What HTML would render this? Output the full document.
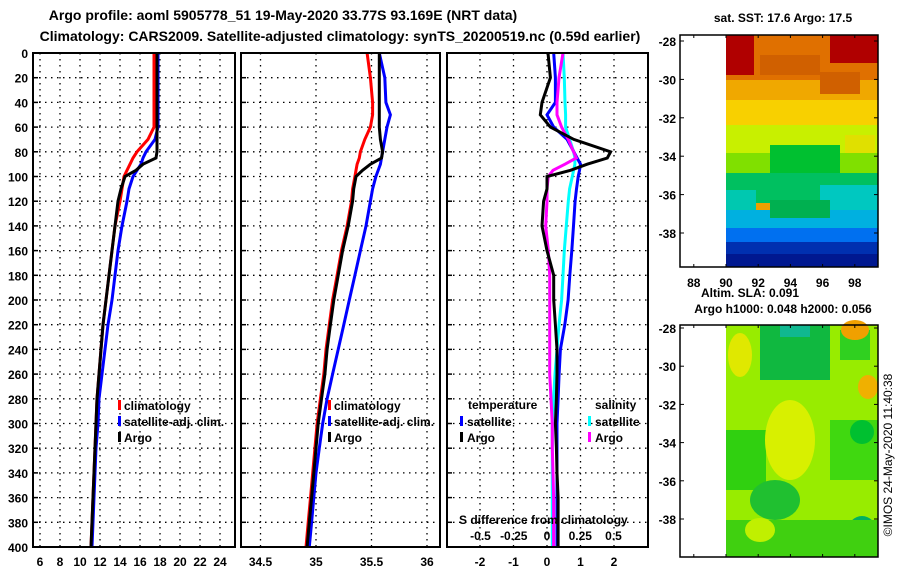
<!DOCTYPE html>
<html><head><meta charset="utf-8"><style>
body{margin:0;background:#fff}
svg{display:block;font-family:"Liberation Sans",sans-serif;font-weight:bold}
</style></head><body>
<svg id="fig" width="900" height="580" viewBox="0 0 900 580">
<g font-size="14" text-anchor="middle">
<text x="283" y="20">Argo profile: aoml 5905778_51 19-May-2020 33.77S 93.169E (NRT data)</text>
<text x="340" y="41">Climatology: CARS2009. Satellite-adjusted climatology: synTS_20200519.nc (0.59d earlier)</text>
</g>
<g id="grids"></g>
<g id="series"></g>
<g id="frames" fill="none" stroke="#000" stroke-width="2">
<rect x="33" y="53" width="202" height="494"/>
<rect x="241" y="53" width="199" height="494"/>
<rect x="447" y="53" width="201" height="494"/>
</g>
<g id="labels" font-size="12"></g>
<g font-size="12">
<rect x="118" y="400" width="3" height="10" fill="#f00"/><text x="124" y="410">climatology</text>
<rect x="118" y="416" width="3" height="10" fill="#00f"/><text x="124" y="426">satellite-adj. clim.</text>
<rect x="118" y="432" width="3" height="10" fill="#000"/><text x="124" y="442">Argo</text>
</g>
<g font-size="12">
<rect x="328" y="400" width="3" height="10" fill="#f00"/><text x="334" y="410">climatology</text>
<rect x="328" y="416" width="3" height="10" fill="#00f"/><text x="334" y="426">satellite-adj. clim.</text>
<rect x="328" y="432" width="3" height="10" fill="#000"/><text x="334" y="442">Argo</text>
</g>
<g font-size="12">
<text x="468" y="409">temperature</text>
<rect x="460" y="416" width="3" height="10" fill="#00f"/><text x="467" y="426">satellite</text>
<rect x="460" y="432" width="3" height="10" fill="#000"/><text x="467" y="442">Argo</text>
<text x="595" y="409">salinity</text>
<rect x="588" y="416" width="3" height="10" fill="#0ff"/><text x="595" y="426">satellite</text>
<rect x="588" y="432" width="3" height="10" fill="#f0f"/><text x="595" y="442">Argo</text>
<text x="459" y="524">S difference from climatology</text>
</g>
<g>
<text x="783" y="22" font-size="12" text-anchor="middle">sat. SST: 17.6 Argo: 17.5</text>
<rect x="726" y="35" width="152" height="232" fill="#f0a000"/>
<rect x="726" y="35" width="152" height="45" fill="#e07000"/>
<rect x="726" y="35" width="28" height="40" fill="#b00000"/>
<rect x="830" y="35" width="48" height="28" fill="#b00000"/>
<rect x="760" y="55" width="60" height="20" fill="#d06000"/>
<rect x="726" y="80" width="152" height="20" fill="#f0a800"/>
<rect x="820" y="72" width="40" height="22" fill="#d06000"/>
<rect x="726" y="100" width="152" height="25" fill="#f8d000"/>
<rect x="726" y="125" width="152" height="28" fill="#c8f000"/>
<rect x="845" y="135" width="30" height="35" fill="#e0e000"/>
<rect x="726" y="153" width="152" height="22" fill="#80e000"/>
<rect x="770" y="145" width="70" height="30" fill="#00c030"/>
<rect x="726" y="173" width="152" height="30" fill="#00c060"/>
<rect x="726" y="190" width="30" height="25" fill="#00c8b0"/>
<rect x="820" y="185" width="58" height="25" fill="#00c8c0"/>
<rect x="726" y="210" width="152" height="20" fill="#00b0e0"/>
<rect x="770" y="200" width="60" height="18" fill="#00b050"/>
<rect x="726" y="228" width="152" height="14" fill="#0070f0"/>
<rect x="726" y="242" width="152" height="12" fill="#0030b0"/>
<rect x="726" y="254" width="152" height="13" fill="#001890"/>
<rect x="680" y="35" width="198" height="232" fill="none" stroke="#000" stroke-width="1.5"/>
</g>
<g>
<text x="750" y="297" font-size="12" text-anchor="middle">Altim. SLA: 0.091</text>
<text x="783" y="313" font-size="12" text-anchor="middle">Argo h1000: 0.048 h2000: 0.056</text>
<rect x="726" y="325" width="152" height="232" fill="#98ec00"/>
<rect x="760" y="325" width="70" height="55" fill="#10b840"/>
<rect x="780" y="325" width="30" height="12" fill="#10b890"/>
<rect x="840" y="330" width="30" height="30" fill="#30d020"/>
<ellipse cx="855" cy="330" rx="14" ry="10" fill="#f0a000"/>
<ellipse cx="868" cy="387" rx="10" ry="12" fill="#f0b000"/>
<ellipse cx="740" cy="355" rx="12" ry="22" fill="#e0e800"/>
<rect x="726" y="430" width="40" height="60" fill="#30d010"/>
<ellipse cx="775" cy="500" rx="25" ry="20" fill="#20c030"/>
<ellipse cx="790" cy="440" rx="25" ry="40" fill="#d8f000"/>
<rect x="830" y="420" width="48" height="60" fill="#40d810"/>
<ellipse cx="862" cy="432" rx="12" ry="12" fill="#00c030"/>
<ellipse cx="862" cy="530" rx="14" ry="14" fill="#00b060"/>
<rect x="726" y="520" width="152" height="37" fill="#40d010"/>
<ellipse cx="760" cy="530" rx="15" ry="12" fill="#c0f000"/>
<rect x="680" y="325" width="198" height="232" fill="none" stroke="#000" stroke-width="1.5"/>
<text transform="translate(892,455) rotate(-90)" font-size="12" font-weight="normal" text-anchor="middle">©IMOS 24-May-2020 11:40:38</text>
</g>
<g id="maplabels" font-size="12"></g>
</svg>
<script>
const depths = [0,20,40,50,60,70,80,85,90,95,100,110,120,140,160,180,200,220,240,260,280,300,320,340,360,380,400];
const tempArgo = [17.7,17.7,17.7,17.7,17.7,17.7,17.7,17.6,16.3,15.6,14.5,14.1,13.8,13.5,13.2,12.9,12.6,12.3,12.1,11.9,11.7,11.6,11.5,11.4,11.3,11.2,11.1];
const tempClim = [17.4,17.4,17.4,17.4,17.4,16.8,15.7,15.3,15.0,14.7,14.4,14.2,14.0,13.5,13.2,12.9,12.6,12.3,12.1,11.9,11.7,11.6,11.5,11.4,11.3,11.2,11.1];
const tempSat = [17.8,17.8,17.8,17.8,17.8,17.5,16.6,16.3,16.1,15.7,15.3,14.9,14.7,14.2,13.8,13.5,13.2,12.8,12.5,12.2,11.9,11.8,11.6,11.5,11.4,11.3,11.2];
const salArgo = [35.57,35.57,35.57,35.57,35.57,35.58,35.6,35.59,35.49,35.42,35.36,35.34,35.33,35.29,35.24,35.2,35.16,35.13,35.1,35.08,35.05,35.02,35.0,34.98,34.96,34.94,34.92];
const salClim = [35.46,35.49,35.51,35.51,35.49,35.44,35.4,35.39,35.37,35.36,35.35,35.33,35.32,35.28,35.23,35.19,35.15,35.12,35.09,35.07,35.04,35.01,34.99,34.97,34.95,34.93,34.91];
const salSat = [35.57,35.62,35.63,35.67,35.64,35.62,35.6,35.59,35.58,35.56,35.54,35.51,35.49,35.45,35.4,35.35,35.3,35.25,35.2,35.15,35.1,35.06,35.03,35.0,34.98,34.96,34.94];
const dTempArgo = [0.03,0.1,-0.15,-0.2,0.1,0.8,1.9,1.8,1.2,0.7,0.0,0.0,-0.1,-0.15,0.0,0.2,0.2,0.25,0.3,0.3,0.28,0.25,0.28,0.3,0.33,0.33,0.33];
const dTempSat = [0.2,0.25,0.25,0.0,0.2,0.6,0.8,0.9,1.0,0.97,0.93,0.88,0.84,0.79,0.74,0.68,0.63,0.53,0.4,0.36,0.33,0.3,0.3,0.3,0.3,0.3,0.3];
const dSalSat = [0.12,0.13,0.135,0.14,0.14,0.17,0.2,0.21,0.21,0.2,0.19,0.17,0.16,0.145,0.13,0.12,0.11,0.09,0.075,0.06,0.05,0.04,0.04,0.04,0.04,0.04,0.04];
const dSalArgo = [0.12,0.09,0.075,0.075,0.11,0.16,0.2,0.22,0.135,0.045,0.01,0.0,0.0,-0.01,0.01,0.02,0.02,0.02,0.02,0.02,0.03,0.04,0.04,0.045,0.05,0.05,0.05];
const depthTicks = [0,20,40,60,80,100,120,140,160,180,200,220,240,260,280,300,320,340,360,380,400];
const tempTicks = [6,8,10,12,14,16,18,20,22,24];
const salTicks = [34.5,35,35.5,36];
const dTempTicks = [-2,-1,0,1,2];
const dSalTicks = ["-0.5","-0.25","0","0.25","0.5"];
const latTicks = [-28,-30,-32,-34,-36,-38];
const lonTicks = [88,90,92,94,96,98];

const NS='http://www.w3.org/2000/svg';
const yD = d => 53 + d*1.235;
const xT = t => 40 + (t-6)*10;
const xS = s => 316 + (s-35)*111;
const xDT = v => 547 + v*33.5;
const xDS = v => 547 + v*133;
const lonX = l => 726 + (l-90)*16.1;
const latY1 = l => 41 + (-28-l)*19.2;
const latY2 = l => 328 + (-28-l)*19.1;

function mk(tag, attrs, parent){const e=document.createElementNS(NS,tag);for(const k in attrs)e.setAttribute(k,attrs[k]);parent.appendChild(e);return e;}
const grids=document.getElementById('grids'), series=document.getElementById('series'), labels=document.getElementById('labels'), ml=document.getElementById('maplabels');

const panels=[[33,235,tempTicks.map(xT)],[241,440,salTicks.map(xS)],[447,648,dTempTicks.map(xDT)]];
panels.forEach(([x0,x1,xs])=>{
  depthTicks.forEach(d=>{
    const l=mk('line',{x1:x0,x2:x1,y1:yD(d),y2:yD(d),stroke:'#000','stroke-width':1.3,'stroke-dasharray':'1.5,4.5'},grids);
    
    
    const t=mk('line',{x1:x0,x2:x0+5,y1:yD(d),y2:yD(d),stroke:'#000','stroke-width':1.5},grids);
    
    
  });
  xs.forEach(x=>{
    const l=mk('line',{x1:x,x2:x,y1:53,y2:547,stroke:'#000','stroke-width':1.3,'stroke-dasharray':'1.5,4.5'},grids);
    
    
  });
});
depthTicks.forEach(d=>{
  const t=mk('text',{x:28,y:yD(d)+5,'text-anchor':'end'},labels);
  t.textContent=d;
  
  
});
function xlab(vals,f,y,name){vals.forEach(v=>{const t=mk('text',{x:f(parseFloat(v)),y:y,'text-anchor':'middle'},labels);t.textContent=v;
  
  });}
xlab(tempTicks,xT,566,'temperature-tick-label');
xlab(salTicks,xS,566,'salinity-tick-label');
xlab(dTempTicks,xDT,566,'temp-diff-tick-label');
xlab(dSalTicks,xDS,540,'sal-diff-tick-label');

function line(xs,fx,color,name,w){
  const pts=depths.map((d,i)=>fx(xs[i]).toFixed(1)+','+yD(d).toFixed(1)).join(' ');
  const p=mk('polyline',{points:pts,fill:'none',stroke:color,'stroke-width':w||3,'stroke-linejoin':'miter'},series);
  
  
}
line(tempClim,xT,'#f00','temp-climatology-line');
line(tempSat,xT,'#00f','temp-satellite-line');
line(tempArgo,xT,'#000','temp-argo-line');
line(salClim,xS,'#f00','sal-climatology-line');
line(salSat,xS,'#00f','sal-satellite-line');
line(salArgo,xS,'#000','sal-argo-line');
line(dSalSat,xDS,'#0ff','sal-diff-satellite-line');
line(dTempSat,xDT,'#00f','temp-diff-satellite-line');
line(dSalArgo,xDS,'#f0f','sal-diff-argo-line');
line(dTempArgo,xDT,'#000','temp-diff-argo-line');

latTicks.forEach(l=>{
  [[latY1,0],[latY2,1]].forEach(([f])=>{
    const t=mk('text',{x:676,y:f(l)+5,'text-anchor':'end'},ml);t.textContent=l;
    
    
    mk('line',{x1:680,x2:684,y1:f(l),y2:f(l),stroke:'#000'},ml);
    mk('line',{x1:874,x2:878,y1:f(l),y2:f(l),stroke:'#000'},ml);
  });
});
lonTicks.forEach(l=>{
  const t=mk('text',{x:lonX(l),y:287,'text-anchor':'middle'},ml);t.textContent=l;
  
  
  [35,325].forEach(y=>mk('line',{x1:lonX(l),x2:lonX(l),y1:y,y2:y+3,stroke:'#000'},ml));
  [267,557].forEach(y=>mk('line',{x1:lonX(l),x2:lonX(l),y1:y-3,y2:y,stroke:'#000'},ml));
});
</script>
</body></html>
